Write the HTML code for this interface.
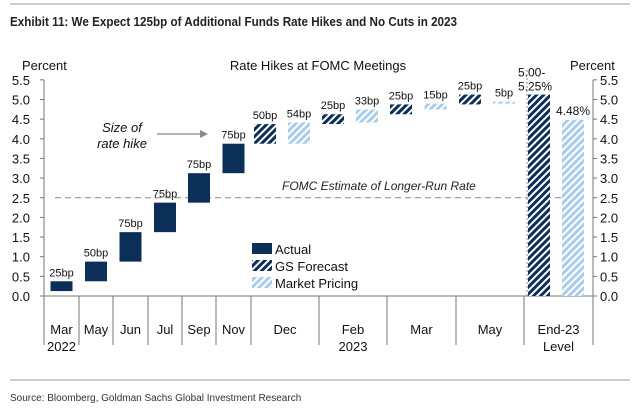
<!DOCTYPE html>
<html><head><meta charset="utf-8">
<style>
body{margin:0;background:#fff;width:640px;height:409px;overflow:hidden;font-family:"Liberation Sans",Arial,sans-serif;}
svg text{font-family:"Liberation Sans",Arial,sans-serif;}
</style></head>
<body>
<svg id="c" width="640" height="409" viewBox="0 0 640 409">
<defs>
<pattern id="gs" patternUnits="userSpaceOnUse" width="5" height="5" patternTransform="rotate(45)">
<rect width="5" height="5" fill="#fff"/><rect width="3" height="5" fill="#0b2f57"/></pattern>
<pattern id="mk" patternUnits="userSpaceOnUse" width="5" height="5" patternTransform="rotate(45)">
<rect width="5" height="5" fill="#fff"/><rect width="3" height="5" fill="#a9cdea"/></pattern>
</defs>
<line x1="10" y1="4" x2="630" y2="4" stroke="#999" stroke-width="1"/>
<text x="10" y="26" font-size="13" font-weight="bold" fill="#222" textLength="447" lengthAdjust="spacingAndGlyphs">Exhibit 11: We Expect 125bp of Additional Funds Rate Hikes and No Cuts in 2023</text>
<text x="318" y="70" font-size="13" text-anchor="middle" fill="#111">Rate Hikes at FOMC Meetings</text>
<text x="22" y="70" font-size="13" fill="#111">Percent</text>
<text x="570" y="70" font-size="13" fill="#111">Percent</text>
<g id="g"></g>
<line x1="10" y1="380" x2="630" y2="380" stroke="#999"/>
<text x="10" y="401" font-size="10" fill="#333">Source: Bloomberg, Goldman Sachs Global Investment Research</text>
</svg>
<script>
const categories=["Mar","May","Jun","Jul","Sep","Nov","Dec","Feb","Mar","May","End-23"];
const subLabels=["2022","","","","","","","2023","","","Level"];
const actualLow=[0.125,0.375,0.875,1.625,2.375,3.125];
const actualHigh=[0.375,0.875,1.625,2.375,3.125,3.875];
const actualLabels=["25bp","50bp","75bp","75bp","75bp","75bp"];
const gsLow=[3.875,4.375,4.625,4.875];
const gsHigh=[4.375,4.625,4.875,5.125];
const gsLabels=["50bp","25bp","25bp","25bp"];
const mkLow=[3.875,4.415,4.745,4.895];
const mkHigh=[4.415,4.745,4.895,4.945];
const mkLabels=["54bp","33bp","15bp","5bp"];
const endGS=5.125, endMk=4.48;
const yTicks=[0,0.5,1,1.5,2,2.5,3,3.5,4,4.5,5,5.5];
const longRun=2.5;

const NS="http://www.w3.org/2000/svg";
const g=document.getElementById('g');
const y=v=>296-v*39.3;
const bounds=[44,79,113,148,182,216,251,319,387,456,524,593];
function el(t,a,txt){const e=document.createElementNS(NS,t);for(const k in a)e.setAttribute(k,a[k]);if(txt!==undefined)e.textContent=txt;g.appendChild(e);return e;}
let e=el('line',{x1:44,y1:y(5.5),x2:44,y2:296,stroke:'#777'});

e=el('line',{x1:593,y1:y(5.5),x2:593,y2:296,stroke:'#777'});

e=el('line',{x1:44,y1:296,x2:593,y2:296,stroke:'#777'});

yTicks.forEach(v=>{
 el('line',{x1:40,y1:y(v),x2:44,y2:y(v),stroke:'#777'});
 el('line',{x1:593,y1:y(v),x2:597,y2:y(v),stroke:'#777'});
 let t=el('text',{x:30,y:y(v)+5,'font-size':13,'text-anchor':'end',fill:'#111'},v.toFixed(1));
 
 t=el('text',{x:600,y:y(v)+5,'font-size':13,fill:'#111'},v.toFixed(1));
 
});
bounds.forEach(b=>el('line',{x1:b,y1:296,x2:b,y2:345,stroke:'#777'}));
categories.forEach((c,i)=>{
 const cx=(bounds[i]+bounds[i+1])/2;
 let t=el('text',{x:cx,y:334,'font-size':13,'text-anchor':'middle',fill:'#111'},c);
 
 if(subLabels[i]){t=el('text',{x:cx,y:351,'font-size':13,'text-anchor':'middle',fill:'#111'},subLabels[i]);
 }
});
e=el('line',{x1:55,y1:y(longRun),x2:580,y2:y(longRun),stroke:'#888','stroke-dasharray':'6,4'});

e=el('text',{x:282,y:y(longRun)-8,'font-size':12,'font-style':'italic',fill:'#222'},'FOMC Estimate of Longer-Run Rate');

e=el('line',{x1:527,y1:y(5.5)-10,x2:527,y2:296,stroke:'#888','stroke-dasharray':'2,2'});

function bar(x,lo,hi,fill,lab,name){
 const r=el('rect',{x:x,y:y(hi),width:22,height:y(lo)-y(hi),fill:fill});
 
 if(lab){const t=el('text',{x:x+11,y:y(hi)-5,'font-size':11,'text-anchor':'middle',fill:'#111'},lab);
 }
}
actualLow.forEach((lo,i)=>bar((bounds[i]+bounds[i+1])/2-11,lo,actualHigh[i],'#0b2f57',actualLabels[i],'actual-bar'));
gsLow.forEach((lo,i)=>{const L=bounds[6+i],R=bounds[7+i];
 bar(L+3,lo,gsHigh[i],'url(#gs)',gsLabels[i],'gs-forecast-bar');
 bar(L+(R-L)/2+3,mkLow[i],mkHigh[i],'url(#mk)',mkLabels[i],'market-pricing-bar');});
bar(528,0,endGS,'url(#gs)','','end23-gs-bar');
bar(562,0,endMk,'url(#mk)','','end23-market-bar');
e=el('text',{x:518,y:y(endGS)-18,'font-size':12,fill:'#111'},'5.00-');

e=el('text',{x:518,y:y(endGS)-4,'font-size':12,fill:'#111'},'5.25%');

e=el('text',{x:556,y:y(endMk)-5,'font-size':12,fill:'#111'},'4.48%');

e=el('text',{x:122,y:132,'font-size':13,'font-style':'italic','text-anchor':'middle',fill:'#111'},'Size of');

e=el('text',{x:122,y:148,'font-size':13,'font-style':'italic','text-anchor':'middle',fill:'#111'},'rate hike');

e=el('line',{x1:157,y1:134,x2:200,y2:134,stroke:'#888','stroke-width':1.2});

el('polygon',{points:'200,130 208,134 200,138',fill:'#888'});
const leg=[['#0b2f57','Actual'],['url(#gs)','GS Forecast'],['url(#mk)','Market Pricing']];
leg.forEach((l,i)=>{const yy=243+i*17;
 let r=el('rect',{x:252,y:yy,width:20,height:11,fill:l[0]});
 
 let t=el('text',{x:275,y:yy+11,'font-size':13,fill:'#111'},l[1]);
 });
</script>
</body></html>
